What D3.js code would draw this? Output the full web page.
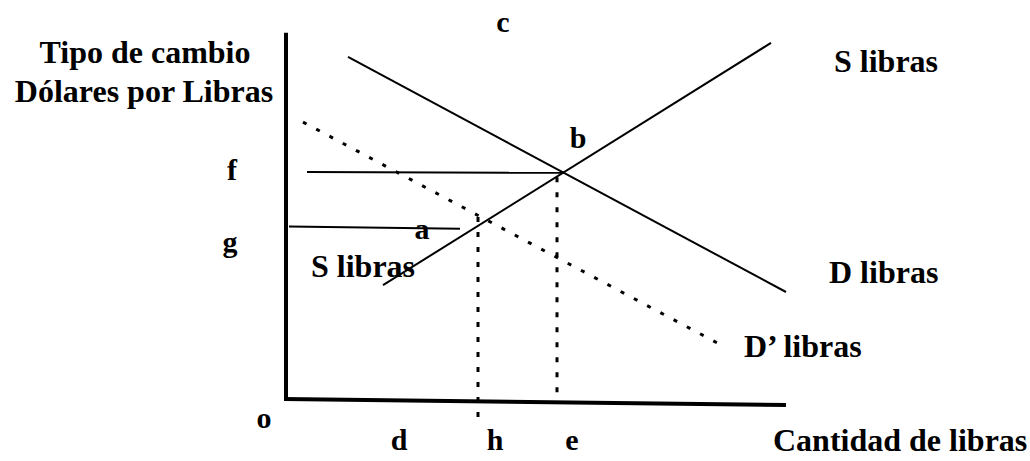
<!DOCTYPE html>
<html>
<head>
<meta charset="utf-8">
<script src="https://cdn.jsdelivr.net/npm/d3@7"></script>
<style>
  body { margin: 0; background: #fff; }
  svg { display: block; }
  .curve { fill: none; stroke: #000; stroke-width: 2; }
  .axis { fill: none; stroke: #000; stroke-width: 4; }
  .dotted { fill: none; stroke: #000; stroke-width: 3; stroke-dasharray: 4,11; }
  .guide { fill: none; stroke: #000; stroke-width: 3; stroke-dasharray: 5,10; }
  text { font-weight: bold; fill: #000; }
</style>
</head>
<body>
<script>
// curves, in (cantidad, tipo de cambio) units
var demandD = [{q:1.24, p:9.53}, {q:10, p:3.0}];
var supplyS = [{q:1.94, p:3.19}, {q:9.7, p:9.92}];
var demandD2 = [{q:0.34, p:7.72}, {q:8.78, p:1.47}];

// guide lines
var lineF = [{q:0.42, p:6.33}, {q:5.56, p:6.31}];
var lineG = [{q:0.06, p:4.82}, {q:3.48, p:4.76}];
var lineE = [{q:5.42, p:6.19}, {q:5.42, p:0.19}];
var lineH = [{q:3.84, p:5.08}, {q:3.84, p:-0.47}];

var yAxisPts = [{q:0, p:10.2}, {q:0, p:0}];
var xAxisPts = [{q:-0.04, p:0.03}, {q:10, p:-0.14}];

// letter labels
var letters = [
  {t:"c", q:4.34, p:10.22},
  {t:"b", q:5.84, p:7.0},
  {t:"f", q:-1.08, p:6.11},
  {t:"g", q:-1.12, p:4.11},
  {t:"a", q:2.72, p:4.47},
  {t:"o", q:-0.44, p:-0.78},
  {t:"d", q:2.26, p:-1.39},
  {t:"h", q:4.18, p:-1.39},
  {t:"e", q:5.72, p:-1.39}
];

// curve / axis labels
var labels = [
  {t:"S libras", q:0.5, p:3.42, a:"start"},
  {t:"S libras", q:10.96, p:9.11, a:"start"},
  {t:"D libras", q:10.86, p:3.25, a:"start"},
  {t:"D\u2019 libras", q:9.16, p:1.19, a:"start"},
  {t:"Cantidad de libras", q:9.74, p:-1.42, a:"start"},
  {t:"Tipo de cambio", q:-2.82, p:9.36, a:"middle"},
  {t:"Dólares por Libras", q:-2.84, p:8.28, a:"middle"}
];

var xScale = d3.scaleLinear().domain([0,10]).range([286,786]);
var yScale = d3.scaleLinear().domain([0,10]).range([400,40]);

var line = d3.line()
    .x(function(d){ return xScale(d.q); })
    .y(function(d){ return yScale(d.p); });

var svg = d3.select("body").append("svg")
    .attr("width", 1030)
    .attr("height", 461);

svg.append("path").datum(yAxisPts).classed("axis", true).attr("d", line);
svg.append("path").datum(xAxisPts).classed("axis", true).attr("d", line);

svg.append("path").datum(lineF).classed("curve", true).attr("d", line);
svg.append("path").datum(lineG).classed("curve", true).attr("d", line);
svg.append("path").datum(lineE).classed("guide", true).attr("d", line);
svg.append("path").datum(lineH).classed("guide", true).attr("d", line);

svg.append("path").datum(demandD).classed("curve", true).attr("d", line);
svg.append("path").datum(supplyS).classed("curve", true).attr("d", line);
svg.append("path").datum(demandD2).classed("dotted", true).attr("d", line);

var serif = "'Liberation Serif', 'DejaVu Serif', serif";

svg.selectAll("text.letter").data(letters).enter().append("text")
    .attr("class", "letter")
    .attr("x", function(d){ return xScale(d.q); })
    .attr("y", function(d){ return yScale(d.p); })
    .attr("text-anchor", "middle")
    .attr("font-family", serif)
    .attr("font-size", 30)
    .text(function(d){ return d.t; });

svg.selectAll("text.label").data(labels).enter().append("text")
    .attr("class", "label")
    .attr("x", function(d){ return xScale(d.q); })
    .attr("y", function(d){ return yScale(d.p); })
    .attr("text-anchor", function(d){ return d.a; })
    .attr("font-family", serif)
    .attr("font-size", 32)
    .text(function(d){ return d.t; });
</script>
</body>
</html>
